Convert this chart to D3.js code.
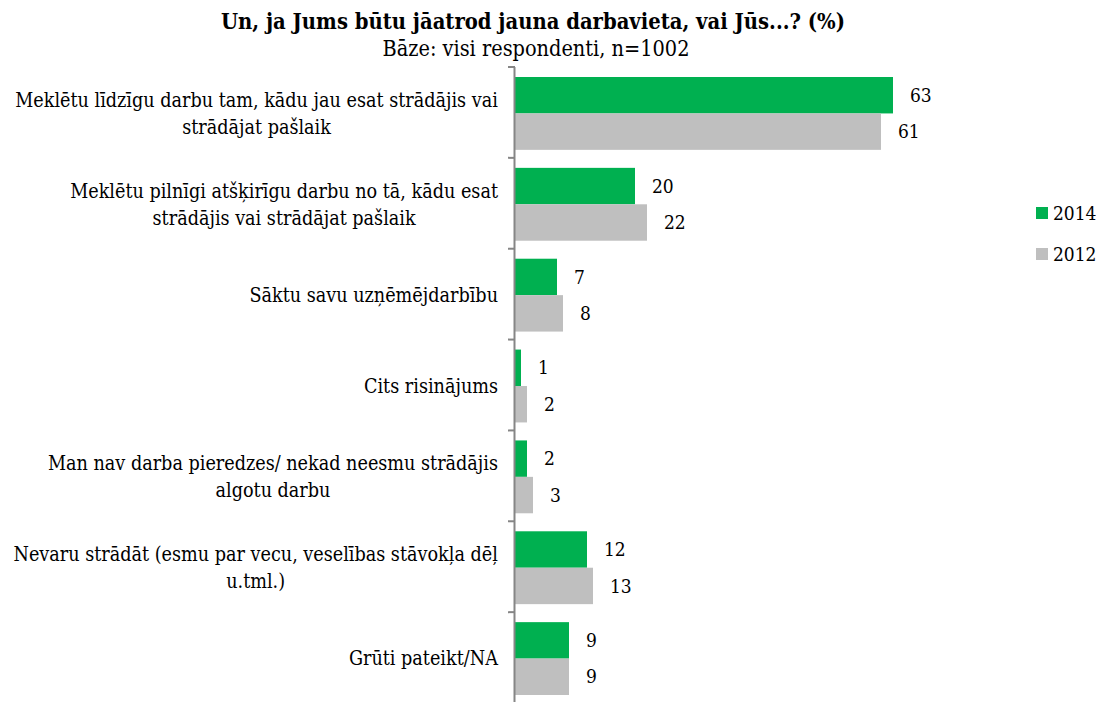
<!DOCTYPE html>
<html>
<head>
<meta charset="utf-8">
<script src="https://cdnjs.cloudflare.com/ajax/libs/d3/7.8.5/d3.min.js"></script>
<style>
  body { margin: 0; background: #fff; }
  svg text { font-family: "DejaVu Serif Condensed", "DejaVu Serif", serif; fill: #000; }
</style>
</head>
<body>
<div id="chart"></div>
<script>
var categories = [
  ["Meklētu līdzīgu darbu tam, kādu jau esat strādājis vai", "strādājat pašlaik"],
  ["Meklētu pilnīgi atšķirīgu darbu no tā, kādu esat", "strādājis vai strādājat pašlaik"],
  ["Sāktu savu uzņēmējdarbību"],
  ["Cits risinājums"],
  ["Man nav darba pieredzes/ nekad neesmu strādājis", "algotu darbu"],
  ["Nevaru strādāt (esmu par vecu, veselības stāvokļa dēļ", "u.tml.)"],
  ["Grūti pateikt/NA"]
];
var seriesNames = ["2014", "2012"];
var values2014 = [63, 20, 7, 1, 2, 12, 9];
var values2012 = [61, 22, 8, 2, 3, 13, 9];
var colors = ["#00B050", "#BFBFBF"];
var titleText = "Un, ja Jums būtu jāatrod jauna darbavieta, vai Jūs...? (%)";
var subtitleText = "Bāze: visi respondenti, n=1002";

var width = 1104, height = 702;
var svg = d3.select("#chart").append("svg")
  .attr("width", width)
  .attr("height", height);

var x = d3.scaleLinear().domain([0, 63]).range([515, 893]);
var y = d3.scaleBand().domain(d3.range(categories.length)).range([67, 703]);
var sub = d3.scaleBand().domain([0, 1]).range([10, y.bandwidth() - 8]);

svg.append("text")
  .attr("x", 533).attr("y", 29)
  .attr("text-anchor", "middle")
  .attr("font-size", 21.8).attr("font-weight", "bold")
  .text(titleText);
svg.append("text")
  .attr("x", 536).attr("y", 56)
  .attr("text-anchor", "middle")
  .attr("font-size", 21.5)
  .text(subtitleText);

var series = [values2014, values2012];
series.forEach(function(vals, s){
  svg.selectAll("rect.s" + s)
    .data(vals).enter()
    .append("rect")
    .attr("class", "s" + s)
    .attr("x", x(0))
    .attr("y", function(d, i){ return y(i) + sub(s); })
    .attr("width", function(d){ return x(d) - x(0); })
    .attr("height", sub.bandwidth())
    .attr("fill", colors[s]);
  svg.selectAll("text.v" + s)
    .data(vals).enter()
    .append("text")
    .attr("class", "v" + s)
    .attr("x", function(d){ return x(d) + 17; })
    .attr("y", function(d, i){ return y(i) + sub(s) + sub.bandwidth() / 2; })
    .attr("dy", "0.35em")
    .attr("font-size", 19)
    .text(function(d){ return d; });
});

// axis line and ticks
svg.append("line")
  .attr("x1", x(0) - 0.5).attr("x2", x(0) - 0.5)
  .attr("y1", y.range()[0]).attr("y2", height)
  .attr("stroke", "#868686").attr("stroke-width", 2);
svg.selectAll("line.tick")
  .data(d3.range(categories.length))
  .enter().append("line")
  .attr("class", "tick")
  .attr("x1", x(0) - 7).attr("x2", x(0))
  .attr("y1", function(i){ return y(i); })
  .attr("y2", function(i){ return y(i); })
  .attr("stroke", "#868686").attr("stroke-width", 2);

// category labels
var lh = 27;
categories.forEach(function(lines, i){
  var cy = y(i) + y.bandwidth() / 2 + 1;
  var t = svg.append("text")
    .attr("text-anchor", "middle")
    .attr("font-size", 19.6);
  lines.forEach(function(line, k){
    t.append("tspan")
      .attr("x", 0)
      .attr("y", cy + (k - (lines.length - 1) / 2) * lh)
      .attr("dy", "0.35em")
      .text(line);
  });
  var w = t.node().getBBox().width;
  t.attr("transform", "translate(" + (498 - w / 2) + ",0)");
});

// legend
seriesNames.forEach(function(name, s){
  var ly = 213 + s * 41;
  svg.append("rect")
    .attr("x", 1036).attr("y", ly - 6)
    .attr("width", 12).attr("height", 12)
    .attr("fill", colors[s]);
  svg.append("text")
    .attr("x", 1053).attr("y", ly)
    .attr("dy", "0.35em")
    .attr("font-size", 19)
    .text(name);
});
</script>
</body>
</html>
